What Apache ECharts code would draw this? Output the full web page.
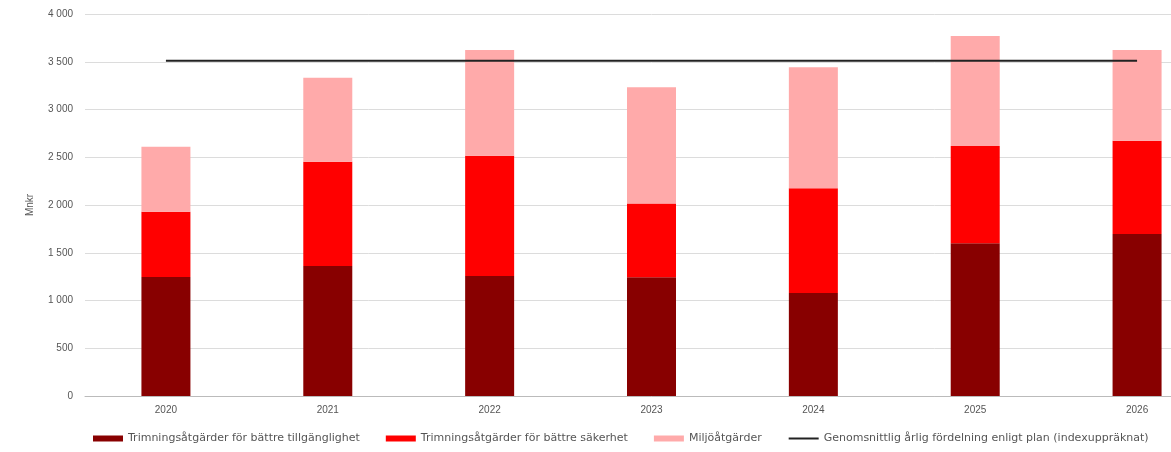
<!DOCTYPE html>
<html><head><meta charset="utf-8">
<script src="https://cdn.jsdelivr.net/npm/echarts@6/dist/echarts.min.js"></script>
<style>html,body{margin:0;padding:0;background:#fff;overflow:hidden}#c{width:1218px;height:452px}</style>
</head><body><div id="c"></div>
<script>
const years = ['2020','2021','2022','2023','2024','2025','2026'];
const tillganglighet = [1246, 1361, 1256, 1243, 1078, 1599, 1696];
const sakerhet = [684, 1092, 1260, 774, 1097, 1019, 977];
const miljo = [680, 880, 1107, 1215, 1267, 1152, 950];
const plan = [3510, 3510, 3510, 3510, 3510, 3510, 3510];
const names = ['Trimningsåtgärder för bättre tillgänglighet','Trimningsåtgärder för bättre säkerhet','Miljöåtgärder','Genomsnittlig årlig fördelning enligt plan (indexuppräknat)'];
const colors = ['#880000','#ff0000','#ffaaaa','#222222'];
const ff = 'Liberation Sans, Arial, sans-serif';
const chart = echarts.init(document.getElementById('c'));
chart.setOption({
  animation:false,
  grid:{left:85, top:14, bottom:56, right:0, containLabel:false},
  legend:{
    bottom:3, left:88, itemWidth:30, itemHeight:6, itemGap:26,
    textStyle:{fontFamily:'DejaVu Sans, sans-serif', fontSize:11, color:'#555'},
    data:[{name:names[0],icon:'rect'},{name:names[1],icon:'rect'},{name:names[2],icon:'rect'},{name:names[3], itemStyle:{opacity:0}}]
  },
  xAxis:{type:'category', data:years,
    axisLine:{lineStyle:{color:'#bbb'}}, axisTick:{show:false},
    axisLabel:{fontFamily:ff, fontSize:10, color:'#555', margin:9}},
  yAxis:{type:'value', min:0, max:4000, interval:500,
    name:'Mnkr', nameLocation:'middle', nameRotate:90, nameGap:50,
    nameTextStyle:{fontFamily:ff, fontSize:10, color:'#555'},
    axisLabel:{fontFamily:ff, fontSize:10, color:'#555', margin:12,
      formatter:v=>String(v).replace(/\B(?=(\d{3})+(?!\d))/g,' ')},
    splitLine:{lineStyle:{color:'#dcdcdc'}}},
  series:[
    {name:names[0], type:'bar', stack:'s', data:tillganglighet, barWidth:49, itemStyle:{color:colors[0]}},
    {name:names[1], type:'bar', stack:'s', data:sakerhet, itemStyle:{color:colors[1]}},
    {name:names[2], type:'bar', stack:'s', data:miljo, itemStyle:{color:colors[2]}},
    {name:names[3], type:'line', data:plan, symbol:'none', z:5, lineStyle:{color:colors[3], width:2}, itemStyle:{color:colors[3]}}
  ]
});
</script></body></html>
